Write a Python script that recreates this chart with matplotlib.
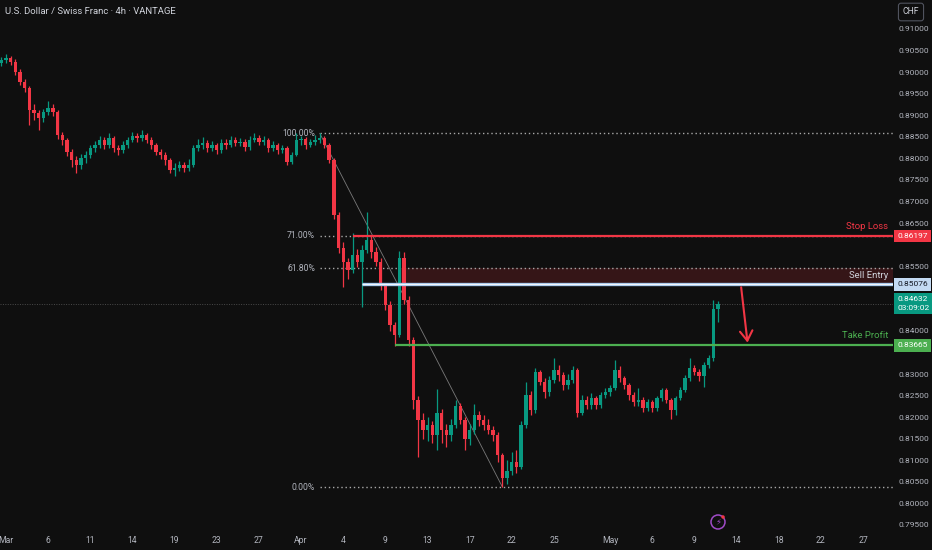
import matplotlib
matplotlib.use("Agg")
import matplotlib.pyplot as plt
import numpy as np
from matplotlib.transforms import blended_transform_factory
from matplotlib.patches import Rectangle, Ellipse

# ---------------- data ----------------
opens = [
    .9022, .9028, .9033, .9024, .9000, .8977, .8963, .8912, .8905, .8894,
    .8907, .8917, .8907, .8854, .8843, .8815, .8796, .8785, .8801, .8808,
    .8824, .8831, .8843, .8831, .8847, .8824, .8819, .8831, .8843, .8852,
    .8847, .8854, .8843, .8831, .8815, .8808, .8796, .8773, .8778, .8785,
    .8778, .8785, .8824, .8831, .8836, .8824, .8831, .8819, .8836, .8831,
    .8843, .8836, .8838, .8826, .8843, .8847, .8838, .8843, .8824, .8831,
    .8819, .8824, .8792, .8808, .8843, .8846, .8831, .8838, .8843, .8847,
    .8831, .8796, .8669, .8592, .8560, .8541, .8576, .8560, .8587, .8611,
    .8583, .8560, .8506, .8460, .8414, .8391, .8569, .8472, .8379, .8240,
    .8193, .8170, .8182, .8159, .8210, .8170, .8159, .8182, .8225, .8193,
    .8150, .8170, .8205, .8193, .8182, .8170, .8159, .8112, .8060, .8075,
    .8095, .8085, .8182, .8251, .8217, .8305, .8281, .8258, .8286, .8309,
    .8298, .8274, .8286, .8309, .8210, .8240, .8228, .8244, .8228, .8251,
    .8258, .8267, .8309, .8291, .8274, .8251, .8235, .8240, .8221, .8235,
    .8221, .8244, .8263, .8240, .8217, .8244, .8263, .8291, .8314, .8305,
    .8295, .8321, .8337, .8450]
closes = [
    .9028, .9033, .9024, .9000, .8977, .8963, .8912, .8905, .8894, .8907,
    .8917, .8907, .8854, .8843, .8815, .8796, .8785, .8801, .8808, .8824,
    .8831, .8843, .8831, .8847, .8824, .8819, .8831, .8843, .8852, .8847,
    .8854, .8843, .8831, .8815, .8808, .8796, .8773, .8778, .8785, .8778,
    .8785, .8824, .8831, .8836, .8824, .8831, .8819, .8836, .8831, .8843,
    .8836, .8838, .8826, .8843, .8847, .8838, .8843, .8824, .8831, .8819,
    .8824, .8792, .8808, .8843, .8846, .8831, .8838, .8843, .8847, .8831,
    .8796, .8669, .8592, .8560, .8541, .8576, .8560, .8587, .8611, .8583,
    .8560, .8506, .8460, .8414, .8391, .8569, .8472, .8379, .8240, .8193,
    .8170, .8182, .8159, .8210, .8170, .8159, .8182, .8225, .8193, .8150,
    .8170, .8205, .8193, .8182, .8170, .8159, .8112, .8060, .8075, .8095,
    .8085, .8182, .8251, .8217, .8305, .8281, .8258, .8286, .8309, .8298,
    .8274, .8286, .8309, .8210, .8240, .8228, .8244, .8228, .8251, .8258,
    .8267, .8309, .8291, .8274, .8251, .8235, .8240, .8221, .8235, .8221,
    .8244, .8263, .8240, .8217, .8244, .8263, .8291, .8314, .8305, .8295,
    .8321, .8337, .8450, .8463]
highs = [
    .9036, .9042, .9038, .9030, .9008, .8985, .8968, .8925, .8912, .8915,
    .8932, .8925, .8912, .8862, .8848, .8822, .8805, .8810, .8818, .8832,
    .8840, .8852, .8850, .8858, .8852, .8830, .8840, .8850, .8862, .8860,
    .8866, .8860, .8850, .8836, .8822, .8815, .8800, .8790, .8795, .8792,
    .8798, .8832, .8845, .8850, .8842, .8840, .8836, .8845, .8846, .8852,
    .8850, .8848, .8845, .8852, .8860, .8855, .8852, .8848, .8840, .8836,
    .8832, .8828, .8815, .8858, .8852, .8850, .8846, .8854, .8859, .8852,
    .8836, .8800, .8675, .8605, .8570, .8627, .8590, .8600, .8676, .8620,
    .8595, .8568, .8512, .8470, .8420, .8585, .8582, .8480, .8385, .8250,
    .8210, .8200, .8190, .8265, .8220, .8185, .8195, .8240, .8232, .8200,
    .8185, .8230, .8215, .8205, .8195, .8180, .8165, .8118, .8100, .8120,
    .8125, .8190, .8282, .8260, .8314, .8310, .8290, .8295, .8337, .8320,
    .8305, .8300, .8318, .8315, .8252, .8250, .8255, .8250, .8258, .8268,
    .8275, .8332, .8318, .8296, .8280, .8258, .8268, .8246, .8242, .8240,
    .8250, .8268, .8268, .8245, .8250, .8270, .8298, .8337, .8320, .8312,
    .8328, .8345, .8472, .8470]
lows = [
    .9015, .9020, .9016, .8994, .8970, .8955, .8878, .8890, .8866, .8885,
    .8900, .8898, .8845, .8832, .8805, .8780, .8766, .8775, .8790, .8800,
    .8815, .8825, .8822, .8825, .8815, .8808, .8812, .8825, .8838, .8838,
    .8840, .8835, .8822, .8808, .8798, .8785, .8765, .8759, .8770, .8768,
    .8770, .8780, .8818, .8822, .8815, .8818, .8810, .8812, .8822, .8826,
    .8828, .8828, .8818, .8820, .8838, .8830, .8832, .8815, .8818, .8810,
    .8812, .8785, .8786, .8805, .8832, .8822, .8826, .8832, .8836, .8825,
    .8790, .8660, .8580, .8502, .8520, .8535, .8548, .8455, .8580, .8570,
    .8550, .8495, .8448, .8400, .8365, .8385, .8462, .8365, .8220, .8108,
    .8150, .8145, .8140, .8125, .8140, .8130, .8145, .8175, .8185, .8124,
    .8135, .8160, .8180, .8170, .8160, .8145, .8095, .8038, .8045, .8065,
    .8070, .8080, .8175, .8205, .8210, .8275, .8245, .8250, .8280, .8285,
    .8262, .8265, .8280, .8200, .8205, .8218, .8220, .8218, .8222, .8245,
    .8250, .8262, .8282, .8265, .8240, .8225, .8226, .8212, .8215, .8212,
    .8215, .8238, .8232, .8195, .8205, .8240, .8258, .8285, .8298, .8285,
    .8270, .8315, .8330, .8420]

tick_dates = ['2025-03-03', '2025-03-06', '2025-03-11', '2025-03-14', '2025-03-19',
              '2025-03-23', '2025-03-27', '2025-04-01', '2025-04-04', '2025-04-09',
              '2025-04-13', '2025-04-17', '2025-04-22', '2025-04-25', '2025-05-01',
              '2025-05-06', '2025-05-09', '2025-05-14', '2025-05-18', '2025-05-22',
              '2025-05-27']
tick_labels = ['Mar', '6', '11', '14', '19', '23', '27', 'Apr', '4', '9', '13', '17',
               '22', '25', 'May', '6', '9', '14', '18', '22', '27']

price_ticks = [0.795, 0.800, 0.805, 0.810, 0.815, 0.820, 0.825, 0.830, 0.835, 0.840,
               0.845, 0.850, 0.855, 0.860, 0.865, 0.870, 0.875, 0.880, 0.885, 0.890,
               0.895, 0.900, 0.905, 0.910]

fib_levels = [1.0, 0.71, 0.618, 0.0]
fib_labels = ['100.00%', '71.00%', '61.80%', '0.00%']
fib_high, fib_low = 0.8858, 0.8038
fib_high_idx, fib_low_idx = 68, 107

stop_loss = 0.86197
sell_entry = 0.85076
take_profit = 0.83665
last_price = 0.84632
countdown = '03:09:02'
sl_start_idx, entry_start_idx, zone_start_idx, tp_start_idx = 75, 77, 85, 84
arrow_days = (52.3, 52.8)

# ---------------- style ----------------
BG = '#0f0f0f'
UP = '#089981'
DN = '#f23645'
TXT = '#b2b5be'
plt.rcParams['font.family'] = ['Roboto', 'DejaVu Sans']

fig = plt.figure(figsize=(9.32, 5.5), dpi=100, facecolor=BG)
ax = fig.add_axes([0, 20 / 550, 893 / 932, 530 / 550])
ax.set_facecolor(BG)
for s in ax.spines.values():
    s.set_visible(False)

o = np.array(opens); c = np.array(closes); h = np.array(highs); l = np.array(lows)
n = len(c)
x = np.arange(n) / 3.0 - 1.0 / 3.0
cols = np.where(c >= o, UP, DN)

xmin, xmax = -0.427, 63.13
ax.set_xlim(xmin, xmax)
ax.set_ylim(0.79384, 0.91672)

# current price line
ax.axhline(last_price, color='#4a4a4a', lw=0.7, ls=(0, (1, 1.5)), zorder=1)

# candles
ax.vlines(x, l, h, colors=cols, lw=0.9, zorder=3)
body = np.maximum(np.abs(c - o), 0.00010)
ax.bar(x, body, bottom=np.minimum(o, c), width=0.24, color=cols, lw=0, zorder=4)

# fib
fx0 = x[fib_high_idx]
for lev, lab in zip(fib_levels, fib_labels):
    p = fib_low + lev * (fib_high - fib_low)
    ax.hlines(p, fx0, xmax, colors='#a8a8a8', lw=1.0, ls=(0, (1, 2)), zorder=2)
    ax.annotate(lab, (fx0, p), xytext=(-3.5, 0), textcoords='offset points',
                ha='right', va='center', fontsize=6.2, color=TXT, zorder=6)
ax.plot([x[fib_high_idx], x[fib_low_idx]], [fib_high, fib_low], color='#7a7a7a',
        lw=0.6, zorder=2)

# sell zone
top_zone = fib_low + 0.618 * (fib_high - fib_low)
ax.add_patch(Rectangle((x[zone_start_idx], sell_entry), xmax - x[zone_start_idx],
                       top_zone - sell_entry, facecolor='#351517', edgecolor='none',
                       zorder=1.5))

# levels
ax.hlines(stop_loss, x[sl_start_idx], xmax, colors=DN, lw=1.6, zorder=5)
ax.hlines(sell_entry, x[entry_start_idx], xmax, colors='#9cc2ec', lw=2.4, zorder=5)
ax.hlines(sell_entry, x[entry_start_idx], xmax, colors='#f2f6fb', lw=1.0, zorder=5)
ax.hlines(take_profit, x[tp_start_idx], xmax, colors='#4caf50', lw=1.6, zorder=5)

# arrow
ax.annotate('', xy=(arrow_days[1], take_profit), xytext=(arrow_days[0], sell_entry),
            arrowprops=dict(arrowstyle='->,head_length=0.7,head_width=0.45',
                            color=DN, lw=1.5), zorder=6)

# right-side labels
tr = blended_transform_factory(ax.transAxes, ax.transData)
ax.annotate('Stop Loss', (0.9944, stop_loss), xycoords=tr, xytext=(0, 3.5),
            textcoords='offset points', ha='right', va='bottom', fontsize=6.8, color=DN)
ax.annotate('Sell Entry', (0.9944, sell_entry), xycoords=tr, xytext=(0, 3.0),
            textcoords='offset points', ha='right', va='bottom', fontsize=6.8,
            color='#d1d4dc')
ax.annotate('Take Profit', (0.9944, take_profit), xycoords=tr, xytext=(0, 3.5),
            textcoords='offset points', ha='right', va='bottom', fontsize=6.8,
            color='#4caf50')

# price axis
skip = [stop_loss, sell_entry, last_price, take_profit]
yt = [p for p in price_ticks if min(abs(p - s) for s in skip) > 0.0022]
ax.yaxis.tick_right()
ax.set_yticks(yt)
ax.set_yticklabels([f'{p:.5f}' for p in yt])
ax.tick_params(axis='y', length=0, pad=4.0, labelsize=6.0, labelcolor=TXT)

tick_pos = np.busday_count('2025-03-03', tick_dates)
ax.set_xticks(tick_pos)
ax.set_xticklabels(tick_labels)
ax.tick_params(axis='x', length=0, pad=4, labelsize=6.2, labelcolor=TXT)

def tag(price, text, fc, tc):
    ax.text(1.0 + 4.5 / 893, price, text, transform=tr, ha='left', va='center',
            fontsize=6.0, color=tc, zorder=10, clip_on=False, linespacing=1.55,
            bbox=dict(boxstyle='square,pad=0.38', fc=fc, ec='none'))

tag(stop_loss, f'{stop_loss:.5f}', DN, 'white')
tag(sell_entry, f'{sell_entry:.5f}', '#c3daf3', '#131722')
tag(last_price, f'{last_price:.5f}\n{countdown}', UP, 'white')
tag(take_profit, f'{take_profit:.5f}', '#4caf50', 'white')

# header
fig.text(5 / 932, 1 - 11 / 550, 'U.S. Dollar / Swiss Franc · 4h · VANTAGE',
         ha='left', va='center', fontsize=6.8, color='#d1d4dc')
fig.text(911 / 932, 1 - 12 / 550, 'CHF', ha='center', va='center', fontsize=6.2,
         color='#d1d4dc',
         bbox=dict(boxstyle='round,pad=0.5,rounding_size=0.3', fc=BG, ec='#50535e',
                   lw=0.8))

# lightning icon
cx, cy = 718 / 932, 1 - 522 / 550
fig.add_artist(Ellipse((cx, cy), 14 / 932, 14 / 550, transform=fig.transFigure,
                       fill=False, ec='#a04bc8', lw=1.1))
fig.text(cx, cy, '⚡', ha='center', va='center', fontsize=6, color='#a04bc8',
         family=['DejaVu Sans'])
fig.add_artist(Ellipse((cx + 5 / 932, cy + 5 / 550), 3.5 / 932, 3.5 / 550,
                       transform=fig.transFigure, fc=DN, ec='none'))

fig.savefig('out.png', dpi=100, facecolor=BG)
